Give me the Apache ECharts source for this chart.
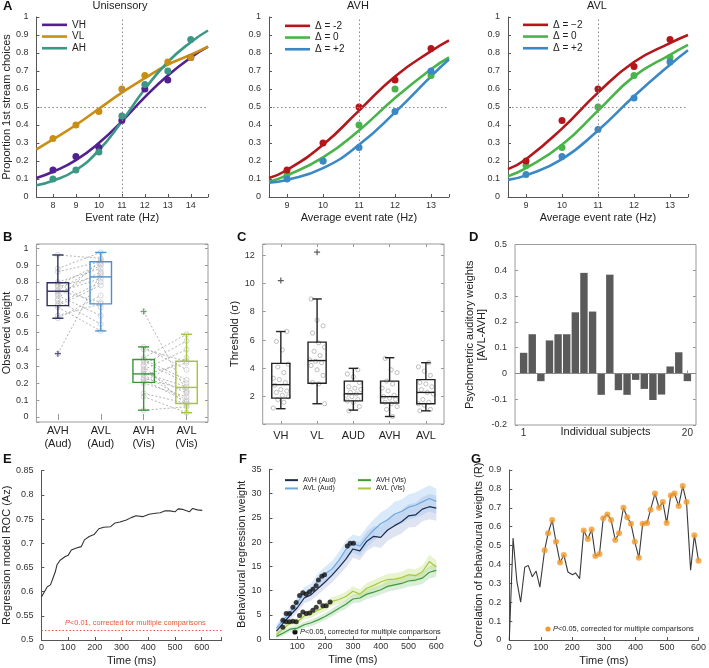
<!DOCTYPE html>
<html>
<head>
<meta charset="utf-8">
<script src="https://cdn.jsdelivr.net/npm/echarts@6/dist/echarts.min.js"></script>
<style>
html, body { margin: 0; padding: 0; background: #fff; }
#chart { width: 709px; height: 668px; }
</style>
</head>
<body>
<div id="chart"></div>
<script>
// ---------- A: psychometric curves ----------
const rateUni = [7.28, 8, 9, 10, 11, 12, 13, 14, 14.75];
const fitVH = [0.105, 0.14, 0.205, 0.30, 0.42, 0.555, 0.675, 0.775, 0.835];
const fitVL = [0.265, 0.32, 0.40, 0.49, 0.58, 0.66, 0.735, 0.79, 0.835];
const fitAH = [0.065, 0.09, 0.15, 0.26, 0.42, 0.60, 0.75, 0.86, 0.925];
const rateUniDots = [8, 9, 10, 11, 12, 13, 14];
const dotVH = [0.15, 0.225, 0.275, 0.425, 0.60, 0.65, 0.775];
const dotVL = [0.325, 0.40, 0.475, 0.60, 0.675, 0.75, 0.775];
const dotAH = [0.10, 0.15, 0.25, 0.45, 0.625, 0.70, 0.875];

const rateAV = [8.5, 9, 10, 11, 12, 13, 13.5];
const rateAVDots = [9, 10, 11, 12, 13];
const avhFitM2 = [0.105, 0.15, 0.29, 0.48, 0.67, 0.81, 0.87];
const avhFit0 = [0.085, 0.12, 0.22, 0.37, 0.55, 0.71, 0.775];
const avhFitP2 = [0.08, 0.095, 0.16, 0.29, 0.47, 0.67, 0.765];
const avhDotM2 = [0.15, 0.30, 0.50, 0.65, 0.825];
const avhDot0 = [0.125, 0.20, 0.40, 0.60, 0.675];
const avhDotP2 = [0.10, 0.20, 0.275, 0.475, 0.70];
const avlFitM2 = [0.155, 0.21, 0.38, 0.58, 0.75, 0.855, 0.90];
const avlFit0 = [0.115, 0.16, 0.29, 0.48, 0.67, 0.79, 0.845];
const avlFitP2 = [0.095, 0.12, 0.21, 0.37, 0.56, 0.735, 0.815];
const avlDotM2 = [0.20, 0.425, 0.60, 0.725, 0.875];
const avlDot0 = [0.175, 0.275, 0.50, 0.675, 0.775];
const avlDotP2 = [0.125, 0.225, 0.375, 0.55, 0.75];

// ---------- B: observed weights ----------
const weightCats = ['AVH\n(Aud)', 'AVL\n(Aud)', 'AVH\n(Vis)', 'AVL\n(Vis)'];
const wAvhAud = [0.96, 0.88, 0.86, 0.80, 0.79, 0.78, 0.77, 0.75, 0.75, 0.74, 0.73, 0.72, 0.70, 0.69, 0.67, 0.66, 0.65, 0.60, 0.585, 0.375];
const wAvlAud = [0.94, 0.975, 0.92, 0.88, 0.65, 0.91, 0.84, 0.90, 0.68, 0.82, 0.86, 0.60, 0.93, 0.55, 0.80, 0.78, 0.51, 0.67, 0.72, 0.85];
const wAvhVis = [0.04, 0.12, 0.14, 0.20, 0.21, 0.22, 0.23, 0.25, 0.25, 0.26, 0.27, 0.28, 0.30, 0.31, 0.33, 0.34, 0.35, 0.40, 0.415, 0.625];
const wAvlVis = [0.06, 0.025, 0.08, 0.12, 0.35, 0.09, 0.16, 0.10, 0.32, 0.18, 0.14, 0.40, 0.07, 0.45, 0.20, 0.22, 0.49, 0.33, 0.28, 0.15];
// [low whisker, Q1, median, Q3, high whisker]
const boxB = [
  [0.585, 0.66, 0.745, 0.795, 0.96],
  [0.51, 0.67, 0.83, 0.92, 0.975],
  [0.04, 0.205, 0.255, 0.34, 0.415],
  [0.025, 0.08, 0.175, 0.33, 0.49]
];
const outB = [[0, 0.375], [2, 0.625]];

// ---------- C: thresholds ----------
const thrCats = ['VH', 'VL', 'AUD', 'AVH', 'AVL'];
const boxC = [
  [1.15, 1.9, 2.85, 4.35, 6.6],
  [1.5, 2.95, 4.55, 5.85, 8.9],
  [1.05, 1.7, 2.2, 3.1, 4.0],
  [0.6, 1.55, 2.0, 3.1, 4.75],
  [1.0, 1.5, 2.3, 3.2, 4.4]
];
const outC = [[0, 10.2], [1, 12.2]];
const thrVH = [1.2, 1.6, 1.8, 2.0, 2.1, 2.3, 2.4, 2.5, 2.8, 3.0, 3.2, 3.3, 3.7, 4.1, 4.3, 5.3, 5.9, 6.6];
const thrVL = [1.5, 2.9, 3.0, 3.5, 3.9, 4.2, 4.4, 4.5, 4.6, 4.9, 5.2, 5.5, 5.8, 6.5, 7.0, 7.4, 8.9];
const thrAUD = [1.0, 1.3, 1.6, 1.7, 1.8, 2.0, 2.1, 2.2, 2.3, 2.5, 2.6, 2.7, 3.0, 3.4, 3.6, 3.9];
const thrAVH = [0.6, 1.1, 1.3, 1.5, 1.6, 1.8, 1.9, 2.0, 2.1, 2.4, 2.6, 2.9, 3.1, 3.7, 3.9, 4.7];
const thrAVL = [1.0, 1.1, 1.4, 1.5, 1.6, 1.8, 2.2, 2.3, 2.5, 2.7, 2.9, 3.0, 3.5, 3.8, 4.1, 4.4];

// ---------- D: AVL-AVH per subject ----------
const subjects = [1, 2, 3, 4, 5, 6, 7, 8, 9, 10, 11, 12, 13, 14, 15, 16, 17, 18, 19, 20];
const weightDiff = [0.08, 0.152, -0.03, 0.128, 0.152, 0.152, 0.237, 0.39, 0.24, -0.083, 0.383, -0.065, -0.083, -0.025, -0.06, -0.103, -0.082, 0.027, 0.082, -0.03];

// ---------- E: regression ROC ----------
const rocTime = [0, 22, 34, 52, 58, 70, 88, 100, 112, 131, 149, 161, 179, 197, 215, 233, 258, 276, 294, 318, 336, 354, 379, 403, 427, 445, 463, 481, 500, 512, 530, 554, 566, 584, 602];
const rocAz = [0.589, 0.61, 0.614, 0.641, 0.655, 0.665, 0.672, 0.675, 0.686, 0.69, 0.693, 0.707, 0.714, 0.718, 0.73, 0.733, 0.734, 0.742, 0.744, 0.748, 0.753, 0.757, 0.755, 0.76, 0.762, 0.763, 0.767, 0.767, 0.765, 0.771, 0.77, 0.765, 0.772, 0.769, 0.768];
const rocThreshold = 0.523;

// ---------- F: behavioural regression weights ----------
const fTime = [25, 50, 75, 100, 125, 150, 175, 200, 225, 250, 275, 300, 325, 350, 375, 400, 425, 450, 475, 500, 525, 550, 575, 600];
const avhAud = [1.7, 3.4, 5.0, 6.5, 8.5, 9.2, 10.5, 11.8, 13.2, 14.8, 16.5, 18.6, 18.2, 20.2, 21.2, 21.0, 22.5, 23.4, 24.2, 25.4, 25.6, 26.8, 27.3, 27.0];
const avlAud = [2.3, 4.0, 5.6, 7.6, 9.5, 10.2, 12.2, 13.5, 14.5, 16.3, 18.5, 19.7, 19.2, 21.0, 22.5, 23.8, 24.6, 25.8, 26.3, 27.2, 27.6, 28.3, 29.0, 28.4];
const avhVis = [0.6, 1.3, 2.1, 2.3, 3.0, 3.4, 4.0, 4.7, 5.5, 6.4, 7.2, 8.3, 8.5, 9.3, 9.7, 10.2, 10.9, 11.2, 11.5, 12.0, 12.2, 12.6, 13.8, 14.2];
const avlVis = [1.0, 2.2, 3.4, 3.6, 4.8, 5.2, 6.0, 6.6, 7.8, 8.2, 8.8, 9.9, 9.3, 10.5, 11.1, 11.8, 12.3, 12.4, 12.7, 13.3, 13.1, 13.9, 16.0, 14.9];
const semAvhAud = [0.7, 0.8, 0.9, 1.0, 1.1, 1.2, 1.3, 1.4, 1.5, 1.6, 1.7, 1.8, 1.9, 2.0, 2.1, 2.2, 2.2, 2.3, 2.4, 2.4, 2.5, 2.5, 2.6, 2.6];
const semAvlAud = [0.8, 0.9, 1.0, 1.1, 1.2, 1.3, 1.4, 1.5, 1.6, 1.7, 1.8, 1.9, 2.0, 2.1, 2.2, 2.3, 2.4, 2.5, 2.5, 2.6, 2.6, 2.7, 2.7, 2.6];
const semAvhVis = [0.4, 0.5, 0.5, 0.6, 0.6, 0.7, 0.7, 0.7, 0.8, 0.8, 0.9, 0.9, 0.9, 1.0, 1.0, 1.0, 1.1, 1.1, 1.1, 1.2, 1.2, 1.2, 1.3, 1.3];
const semAvlVis = [0.5, 0.6, 0.6, 0.7, 0.7, 0.8, 0.8, 0.8, 0.9, 0.9, 1.0, 1.0, 1.0, 1.1, 1.1, 1.1, 1.2, 1.2, 1.2, 1.3, 1.3, 1.3, 1.4, 1.4];
const sigAudT = [48, 60, 72, 84, 96, 108, 120, 132, 144, 156, 168, 176, 188, 198, 280, 290, 302];
const sigAudW = [3.9, 5.3, 5.3, 6.6, 7.6, 9.0, 9.6, 9.3, 9.8, 10.3, 11.0, 12.2, 13.0, 13.3, 19.2, 19.8, 19.8];
const sigVisT = [48, 60, 72, 84, 96, 108, 120, 132, 144, 156, 168, 180, 192, 204, 218];
const sigVisW = [2.5, 3.6, 3.6, 3.7, 3.6, 4.9, 5.6, 5.3, 5.4, 6.0, 6.6, 7.7, 6.9, 6.9, 7.7];

// ---------- G: correlation of weights ----------
const gTime = [0, 12, 24, 36, 49, 60, 73, 85, 97, 112, 123, 136, 148, 161, 173, 186, 200, 210, 223, 236, 249, 261, 273, 286, 298, 311, 323, 336, 348, 362, 374, 386, 398, 411, 423, 437, 448, 462, 475, 487, 499, 512, 524, 537, 550, 562, 575, 587, 600];
const gCorr = [0, 0.54, 0.31, 0.20, 0.385, 0.395, 0.335, 0.365, 0.28, 0.475, 0.565, 0.635, 0.52, 0.41, 0.45, 0.36, 0.345, 0.355, 0.325, 0.58, 0.535, 0.585, 0.445, 0.455, 0.645, 0.665, 0.635, 0.53, 0.565, 0.70, 0.65, 0.615, 0.52, 0.435, 0.615, 0.62, 0.69, 0.775, 0.70, 0.73, 0.62, 0.765, 0.775, 0.71, 0.815, 0.73, 0.37, 0.555, 0.42];
const gSig = [0, 0, 0, 0, 0, 0, 0, 0, 0, 1, 1, 1, 1, 1, 1, 0, 0, 0, 0, 1, 1, 1, 1, 1, 1, 1, 1, 1, 1, 1, 1, 1, 1, 1, 1, 1, 1, 1, 1, 1, 1, 1, 1, 1, 1, 1, 0, 1, 1];

// ---------- helpers ----------
const FONT = '"Liberation Sans", Arial, sans-serif';
const zip = (xs, ys) => xs.map((x, i) => [x, ys[i]]);

const grids = [
  { left: 29.5, top: 17, width: 178.5, height: 180 },   // A1
  { left: 269, top: 17, width: 180, height: 180 },      // A2
  { left: 508, top: 17, width: 180, height: 180 },      // A3
  { left: 30, top: 244, width: 178, height: 178, show: true, borderColor: '#9a9a9a', borderWidth: 1 },     // B
  { left: 262.7, top: 244, width: 181.3, height: 180, show: true, borderColor: '#9a9a9a', borderWidth: 1 }, // C
  { left: 515, top: 244.5, width: 181, height: 180.5, show: true, borderColor: '#9a9a9a', borderWidth: 1 }, // D
  { left: 35.7, top: 470.7, width: 186, height: 169.3 }, // E
  { left: 269.5, top: 469.3, width: 166.8, height: 170 }, // F
  { left: 509.3, top: 470, width: 192.4, height: 170 }   // G
];

const tickLbl = { fontFamily: FONT, fontSize: 9, color: '#333' };
const nameTxt = { fontFamily: FONT, fontSize: 11, color: '#222' };
function axis(grid, o) {
  return Object.assign({
    gridIndex: grid,
    axisLine: { show: true, lineStyle: { color: '#555', width: 1 } },
    axisTick: { show: true, inside: true, length: 3, lineStyle: { color: '#555' } },
    splitLine: { show: false },
    nameLocation: 'middle',
    nameTextStyle: nameTxt
  }, o, { axisLabel: Object.assign({}, tickLbl, o.axisLabel || {}) });
}
const intOnly = v => (Math.abs(v - Math.round(v)) < 1e-6 ? String(Math.round(v)) : '');
const boxedLine = { show: false };
const boxedTick = { show: true, inside: true, length: 3, lineStyle: { color: '#999' } };
const mirror = o => Object.assign({ axisLine: boxedLine, axisTick: boxedTick, axisLabel: { show: false }, splitLine: { show: false } }, o);

const xAxes = [
  axis(0, { type: 'value', min: 7.28, max: 14.75, splitNumber: 7, name: 'Event rate (Hz)', nameGap: 15, axisLabel: { margin: 4, formatter: intOnly } }),
  axis(1, { type: 'value', min: 8.5, max: 13.5, splitNumber: 5, name: 'Average event rate (Hz)', nameGap: 15, axisLabel: { margin: 4, formatter: intOnly } }),
  axis(2, { type: 'value', min: 8.5, max: 13.5, splitNumber: 5, name: 'Average event rate (Hz)', nameGap: 15, axisLabel: { margin: 4, formatter: intOnly } }),
  axis(3, { type: 'category', data: weightCats, axisLine: boxedLine, axisTick: Object.assign({ alignWithLabel: true }, boxedTick), axisLabel: { fontSize: 11, lineHeight: 13, margin: 2, color: '#222' } }),
  axis(4, { type: 'category', data: thrCats, axisLine: boxedLine, axisTick: Object.assign({ alignWithLabel: true }, boxedTick), axisLabel: { fontSize: 11, margin: 6, color: '#222' } }),
  axis(5, { type: 'value', min: 0, max: 21, name: 'Individual subjects', nameGap: 1, nameMoveOverlap: false, axisLine: boxedLine,
    axisTick: Object.assign({ customValues: [1, 20] }, boxedTick),
    axisLabel: { margin: 3, fontSize: 10, customValues: [1, 20] } }),
  axis(6, { type: 'value', min: 0, max: 675, interval: 100, name: 'Time (ms)', nameGap: 15, axisLabel: { margin: 3, formatter: v => (v % 100 === 0 ? String(v) : '') } }),
  axis(7, { type: 'value', min: 0, max: 600, interval: 100, name: 'Time (ms)', nameGap: 15, axisLabel: { margin: 3, formatter: v => (v > 0 ? String(v) : '') } }),
  axis(8, { type: 'value', min: 0, max: 600, interval: 100, name: 'Time (ms)', nameGap: 15, axisLabel: { margin: 3 } }),
  // mirrored tick axes on the boxed panels
  mirror({ type: 'category', gridIndex: 3, position: 'top', data: weightCats, axisTick: Object.assign({ alignWithLabel: true }, boxedTick) }),
  mirror({ type: 'category', gridIndex: 4, position: 'top', data: thrCats, axisTick: Object.assign({ alignWithLabel: true }, boxedTick) })
];

const yAxes = [
  axis(0, { type: 'value', min: 0, max: 1, interval: 0.1, name: 'Proportion 1st stream choices', nameGap: 17 }),
  axis(1, { type: 'value', min: 0, max: 1, interval: 0.1 }),
  axis(2, { type: 'value', min: 0, max: 1, interval: 0.1 }),
  axis(3, { type: 'value', min: -0.03, max: 1.025, splitNumber: 10, name: 'Observed weight', nameGap: 16, axisLine: boxedLine, axisTick: boxedTick,
    axisLabel: { formatter: v => (v < -1e-6 || v > 1 + 1e-6) ? '' : String(Math.round(v * 10) / 10) } }),
  axis(4, { type: 'value', min: 0.07, max: 12.78, splitNumber: 6, name: 'Threshold (σ)', nameGap: 15, axisLine: boxedLine, axisTick: boxedTick,
    axisLabel: { formatter: v => (Math.abs(v / 2 - Math.round(v / 2)) < 1e-6 ? String(Math.round(v)) : '') } }),
  axis(5, { type: 'value', min: -0.2, max: 0.5, interval: 0.1, name: 'Psychometric auditory weights\n[AVL-AVH]', nameGap: 20, axisLine: boxedLine,
    nameTextStyle: Object.assign({}, nameTxt, { lineHeight: 12 }), axisTick: boxedTick }),
  axis(6, { type: 'value', min: 0.5, max: 0.85, interval: 0.05, name: 'Regression model ROC (Az)', nameGap: 24 }),
  axis(7, { type: 'value', min: 0, max: 35, interval: 5, name: 'Behavioural regression weight', nameGap: 18 }),
  axis(8, { type: 'value', min: 0, max: 0.9, interval: 0.1, name: 'Correlation of behavioural weights (R)', nameGap: 21 }),
  mirror({ type: 'value', gridIndex: 3, position: 'right', min: -0.03, max: 1.025, splitNumber: 10 }),
  mirror({ type: 'value', gridIndex: 4, position: 'right', min: 0.07, max: 12.78, splitNumber: 6 }),
  mirror({ type: 'value', gridIndex: 5, position: 'right', min: -0.2, max: 0.5, interval: 0.1 })
];

// psychometric fit + dots
function fit(name, g, xs, ys, color) {
  return { name: name, type: 'line', xAxisIndex: g, yAxisIndex: g, data: zip(xs, ys), smooth: 0.5, showSymbol: false, symbol: 'none', color: color, lineStyle: { width: 2.6, color: color }, z: 3 };
}
function dots(g, xs, ys, color, size) {
  return { name: '_dots', type: 'scatter', xAxisIndex: g, yAxisIndex: g, data: zip(xs, ys), symbolSize: size || 7, itemStyle: { color: color, opacity: 1 }, z: 4 };
}
const refLines = g => ({
  type: 'line', xAxisIndex: g, yAxisIndex: g, data: [], silent: true,
  markLine: { silent: true, symbol: 'none', label: { show: false }, lineStyle: { type: [1.5, 2.5], color: '#888', width: 1 }, data: [{ xAxis: 11 }, { yAxis: 0.5 }] }
});

const cPurple = '#52208f', cGold = '#c98f14', cTeal = '#3b9885';
const cRed = '#b3161b', cGreen = '#48b449', cBlue = '#3a88c6';
const boxColsB = ['#2c2d5c', '#4b91d1', '#3a963b', '#a5c53b'];
const boxColsC = ['#222', '#222', '#222', '#222', '#222'];

function boxRender(cols) {
  return function (params, api) {
    const c = api.value(0);
    const band = api.size([1, 0])[0];
    const hw = band * 0.25, cw = band * 0.13;
    const p = i => api.coord([c, api.value(i)]);
    const lo = p(1), q1 = p(2), md = p(3), q3 = p(4), hi = p(5);
    const x = lo[0];
    const col = cols[params.dataIndex];
    const st = { stroke: col, lineWidth: 1.4, fill: null };
    const ln = (x1, y1, x2, y2) => ({ type: 'line', shape: { x1: x1, y1: y1, x2: x2, y2: y2 }, style: st });
    return {
      type: 'group',
      children: [
        { type: 'rect', shape: { x: x - hw, y: q3[1], width: 2 * hw, height: q1[1] - q3[1] }, style: { stroke: col, lineWidth: 1.4, fill: 'rgba(0,0,0,0)' } },
        ln(x - hw, md[1], x + hw, md[1]),
        ln(x, q3[1], x, hi[1]),
        ln(x, q1[1], x, lo[1]),
        ln(x - cw, hi[1], x + cw, hi[1]),
        ln(x - cw, lo[1], x + cw, lo[1])
      ]
    };
  };
}
const boxData = b => b.map((s, i) => [i].concat(s));
const plusPath = 'path://M4,0H6V4H10V6H6V10H4V6H0V4H4Z';

// B pairs
const pairLines = [];
wAvhAud.forEach((v, i) => pairLines.push({ coords: [[0, v], [1, wAvlAud[i]]] }));
wAvhVis.forEach((v, i) => pairLines.push({ coords: [[2, v], [3, wAvlVis[i]]] }));
const bPts = [].concat(
  wAvhAud.map(v => [0, v]), wAvlAud.map(v => [1, v]),
  wAvhVis.map(v => [2, v]), wAvlVis.map(v => [3, v]));
// C points: [category, threshold, order within the category]
const cPts = [].concat(
  thrVH.map((v, i) => [0, v, i]), thrVL.map((v, i) => [1, v, i + 3]),
  thrAUD.map((v, i) => [2, v, i + 5]), thrAVH.map((v, i) => [3, v, i + 1]),
  thrAVL.map((v, i) => [4, v, i + 8]));
function cPointRender(params, api) {
  const p = api.coord([api.value(0), api.value(1)]);
  const dx = ((api.value(2) * 7) % 11 - 5) * 1.5; // small sideways spread in px
  return { type: 'circle', shape: { cx: p[0] + dx, cy: p[1], r: 2.1 }, style: { fill: 'rgba(0,0,0,0)', stroke: '#b0b0b0', lineWidth: 0.8 } };
}

// F: shaded band between mean - sem and mean + sem
function band(g, xs, mean, sem, color) {
  return {
    type: 'custom', xAxisIndex: g, yAxisIndex: g, silent: true, z: 1, clip: true,
    data: xs.map((x, i) => [x, mean[i] - sem[i], mean[i] + sem[i]]),
    encode: { x: 0, y: [1, 2] },
    renderItem: (params, api) => {
      if (params.dataIndexInside !== 0) return null;
      const n = params.dataInsideLength;
      const up = [], dn = [];
      for (let i = 0; i < n; i++) {
        up.push(api.coord([api.value(0, i), api.value(2, i)]));
        dn.push(api.coord([api.value(0, i), api.value(1, i)]));
      }
      return { type: 'polygon', shape: { points: up.concat(dn.reverse()) }, style: { fill: color } };
    }
  };
}
const fDark = '#1d2b4f', fLight = '#6ea9df', fGreen = '#3b9a3c', fYellow = '#a9c83b';
const hollow = c => ({ color: 'rgba(0,0,0,0)', borderColor: c, borderWidth: 0.8 });

const series = [
  // A1
  refLines(0),
  fit('VH', 0, rateUni, fitVH, cPurple),
  fit('VL', 0, rateUni, fitVL, cGold),
  fit('AH', 0, rateUni, fitAH, cTeal),
  dots(0, rateUniDots, dotVH, cPurple),
  dots(0, rateUniDots, dotAH, cTeal),
  dots(0, rateUniDots, dotVL, cGold),
  // A2
  refLines(1),
  fit('Δ = -2', 1, rateAV, avhFitM2, cRed),
  fit('Δ = 0', 1, rateAV, avhFit0, cGreen),
  fit('Δ = +2', 1, rateAV, avhFitP2, cBlue),
  dots(1, rateAVDots, avhDot0, cGreen),
  dots(1, rateAVDots, avhDotP2, cBlue),
  dots(1, rateAVDots, avhDotM2, cRed),
  // A3
  refLines(2),
  fit('Δ = −2', 2, rateAV, avlFitM2, cRed),
  fit('Δ = 0', 2, rateAV, avlFit0, cGreen),
  fit('Δ = +2', 2, rateAV, avlFitP2, cBlue),
  dots(2, rateAVDots, avlDot0, cGreen),
  dots(2, rateAVDots, avlDotP2, cBlue),
  dots(2, rateAVDots, avlDotM2, cRed),
  // B
  { type: 'lines', coordinateSystem: 'cartesian2d', xAxisIndex: 3, yAxisIndex: 3, silent: true, z: 1,
    lineStyle: { color: '#a0a0a0', width: 0.8, type: [2, 2], opacity: 1 }, data: pairLines },
  { type: 'scatter', xAxisIndex: 3, yAxisIndex: 3, data: bPts, symbol: 'circle', symbolSize: 5, silent: true, z: 2, itemStyle: hollow('#c0c0c0') },
  { type: 'custom', xAxisIndex: 3, yAxisIndex: 3, renderItem: boxRender(boxColsB), data: boxData(boxB), encode: { x: 0, y: [1, 2, 3, 4, 5] }, z: 3, silent: true },
  { type: 'scatter', xAxisIndex: 3, yAxisIndex: 3, data: outB, symbol: plusPath, symbolSize: 6, z: 4,
    itemStyle: { color: p => (p.dataIndex === 0 ? boxColsB[0] : boxColsB[2]) } },
  // C
  { type: 'custom', xAxisIndex: 4, yAxisIndex: 4, renderItem: cPointRender, data: cPts, encode: { x: 0, y: 1 }, z: 2, silent: true },
  { type: 'custom', xAxisIndex: 4, yAxisIndex: 4, renderItem: boxRender(boxColsC), data: boxData(boxC), encode: { x: 0, y: [1, 2, 3, 4, 5] }, z: 3, silent: true },
  { type: 'scatter', xAxisIndex: 4, yAxisIndex: 4, data: outC, symbol: plusPath, symbolSize: 6, z: 4, itemStyle: { color: '#333' } },
  // D
  { type: 'bar', xAxisIndex: 5, yAxisIndex: 5, data: zip(subjects, weightDiff), barWidth: 7.4, itemStyle: { color: '#5a5a5a' }, silent: true,
    markLine: { silent: true, symbol: 'none', label: { show: false }, lineStyle: { type: 'solid', color: '#888', width: 1 }, data: [{ yAxis: 0 }] } },
  // E
  { type: 'line', xAxisIndex: 6, yAxisIndex: 6, data: zip(rocTime, rocAz), symbol: 'none', lineStyle: { color: '#333', width: 1.1 }, silent: true,
    markLine: { silent: true, symbol: 'none', label: { show: false }, lineStyle: { type: [1.5, 2], color: '#e8553f', width: 1 }, data: [{ yAxis: rocThreshold }] } },
  // F bands and means
  band(7, fTime, avhAud, semAvhAud, 'rgba(110,130,200,0.22)'),
  band(7, fTime, avlAud, semAvlAud, 'rgba(150,195,240,0.35)'),
  band(7, fTime, avhVis, semAvhVis, 'rgba(120,190,120,0.28)'),
  band(7, fTime, avlVis, semAvlVis, 'rgba(190,220,120,0.35)'),
  { name: 'AVH (Aud)', type: 'line', xAxisIndex: 7, yAxisIndex: 7, data: zip(fTime, avhAud), symbol: 'none', color: fDark, lineStyle: { color: fDark, width: 1.2 }, z: 3 },
  { name: 'AVL (Aud)', type: 'line', xAxisIndex: 7, yAxisIndex: 7, data: zip(fTime, avlAud), symbol: 'none', color: fLight, lineStyle: { color: fLight, width: 1.2 }, z: 3 },
  { name: 'AVH (Vis)', type: 'line', xAxisIndex: 7, yAxisIndex: 7, data: zip(fTime, avhVis), symbol: 'none', color: fGreen, lineStyle: { color: fGreen, width: 1.2 }, z: 3 },
  { name: 'AVL (Vis)', type: 'line', xAxisIndex: 7, yAxisIndex: 7, data: zip(fTime, avlVis), symbol: 'none', color: fYellow, lineStyle: { color: fYellow, width: 1.2 }, z: 3 },
  { type: 'scatter', xAxisIndex: 7, yAxisIndex: 7, data: zip(sigAudT, sigAudW).concat(zip(sigVisT, sigVisW)), symbolSize: 5, itemStyle: { color: '#111' }, z: 5, silent: true },
  // G
  { type: 'line', xAxisIndex: 8, yAxisIndex: 8, data: zip(gTime, gCorr), symbol: 'none', lineStyle: { color: '#3a3a3a', width: 1.1 }, silent: true, z: 2 },
  { type: 'scatter', xAxisIndex: 8, yAxisIndex: 8, data: zip(gTime, gCorr).filter((d, i) => gSig[i]), symbolSize: 6, itemStyle: { color: '#f39a2c' }, silent: true, z: 3 }
];

const legendBase = {
  orient: 'vertical', icon: 'rect', itemWidth: 25, itemHeight: 2.6, itemGap: 0, selectedMode: false,
  textStyle: { fontFamily: FONT, fontSize: 10, lineHeight: 11.7, color: '#222' }
};
const fLegend = {
  orient: 'vertical', icon: 'rect', itemWidth: 13, itemHeight: 2, itemGap: 0, selectedMode: false,
  textStyle: { fontFamily: FONT, fontSize: 7, lineHeight: 8.3, color: '#222' }
};
const legends = [
  Object.assign({}, legendBase, { left: 37, top: 14, data: ['VH', 'VL', 'AH'] }),
  Object.assign({}, legendBase, { left: 280, top: 15, data: ['Δ = -2', 'Δ = 0', 'Δ = +2'] }),
  Object.assign({}, legendBase, { left: 518, top: 14, data: ['Δ = −2', 'Δ = 0', 'Δ = +2'] }),
  Object.assign({}, fLegend, { left: 280, top: 471, data: ['AVH (Aud)', 'AVL (Aud)'] }),
  Object.assign({}, fLegend, { left: 353, top: 471, data: ['AVH (Vis)', 'AVL (Vis)'] })
];

function label(t, x, y) {
  return { type: 'text', left: x, top: y, style: { text: t, font: 'bold 13px ' + FONT, fill: '#111' } };
}
function title(t, cx, y) {
  return { type: 'text', x: cx, y: y, style: { text: t, font: '11px ' + FONT, fill: '#222', textAlign: 'center', textVerticalAlign: 'middle' } };
}
function note(x, y, color, dotColor, txt) {
  const kids = [];
  if (dotColor) kids.push({ type: 'circle', shape: { cx: x - 5, cy: y, r: 2.6 }, style: { fill: dotColor } });
  kids.push({ type: 'text', x: x, y: y, style: {
    text: txt, fill: color, textVerticalAlign: 'middle',
    font: '7.4px ' + FONT, rich: { i: { fontStyle: 'italic', fontSize: 7.4, fontFamily: FONT, fill: color } } } });
  return { type: 'group', children: kids };
}

const graphics = [
  label('A', 3, 0), label('B', 3, 231), label('C', 237, 231), label('D', 469, 231),
  label('E', 3, 453), label('F', 239, 453), label('G', 471, 453),
  title('Unisensory', 120, 6), title('AVH', 358, 6), title('AVL', 597, 6),
  note(300, 632, '#222', '#111', '{i|P}<0.05, corrected for multiple comparisons'),
  note(553, 629, '#222', '#f39a2c', '{i|P}<0.05, corrected for multiple comparisons'),
  note(65, 623, '#e8553f', null, '{i|P}<0.01, corrected for multiple comparisons')
];

const option = {
  animation: false,
  backgroundColor: '#fff',
  textStyle: { fontFamily: FONT },
  grid: grids,
  xAxis: xAxes,
  yAxis: yAxes,
  legend: legends,
  series: series,
  graphic: graphics
};

const myChart = echarts.init(document.getElementById('chart'), null, { renderer: 'canvas' });
myChart.setOption(option);
window.addEventListener('resize', () => { myChart.resize(); });
</script>
</body>
</html>
